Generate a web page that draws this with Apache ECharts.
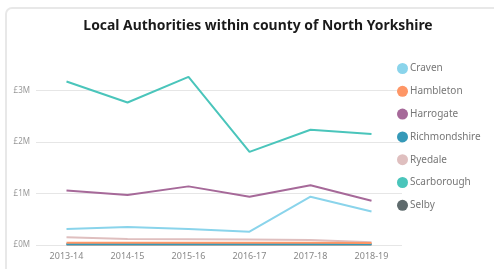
<!DOCTYPE html>
<html>
<head>
<meta charset="utf-8">
<script src="https://cdn.jsdelivr.net/npm/echarts@6/dist/echarts.min.js"></script>
<style>
  html, body { margin: 0; padding: 0; background: #fff; overflow: hidden; }
  #frame { position: absolute; left: 5px; top: 7px; width: 600px; height: 400px;
           border: 2px solid #e8e8e8; border-radius: 7px; }
  #main { position: absolute; left: 0; top: 0; width: 494px; height: 269px; }
</style>
</head>
<body>
<div id="frame"></div>
<div id="main"></div>
<script>
// 年度
var years = ['2013-14', '2014-15', '2015-16', '2016-17', '2017-18', '2018-19'];
var yTicks = [0, 1000000, 2000000, 3000000];

// 各地区数值 (£)
var craven = [310000, 350000, 310000, 260000, 940000, 650000];
var hambleton = [45000, 45000, 45000, 45000, 45000, 40000];
var harrogate = [1060000, 970000, 1140000, 940000, 1160000, 860000];
var richmondshire = [20000, 20000, 20000, 20000, 20000, 20000];
var ryedale = [150000, 115000, 110000, 105000, 95000, 55000];
var scarborough = [3180000, 2770000, 3270000, 1810000, 2240000, 2160000];
var selby = [8000, 8000, 8000, 8000, 8000, 8000];

var names = ['Craven', 'Hambleton', 'Harrogate', 'Richmondshire', 'Ryedale', 'Scarborough', 'Selby'];
var values = [craven, hambleton, harrogate, richmondshire, ryedale, scarborough, selby];
var colors = ['#8AD4EB', '#FE9666', '#A66999', '#3599B8', '#DFBFBF', '#4AC5BB', '#5F6B6D'];

var font = 'Noto Sans';

var myChart = echarts.init(document.getElementById('main'));
var option = {
    animation: false,
    color: colors,
    title: {
        text: 'Local Authorities within county of North Yorkshire',
        left: 253,
        textAlign: 'center',
        top: 14,
        textStyle: { fontFamily: font, fontSize: 13.9, fontWeight: 'bold', color: '#1a1a1a' }
    },
    legend: {
        orient: 'vertical',
        left: 392,
        top: 58,
        icon: 'circle',
        itemWidth: 11,
        itemHeight: 11,
        itemGap: 11.8,
        textStyle: { fontFamily: font, fontSize: 10, color: '#777', lineHeight: 11, padding: [0, 0, 0, -3] },
        data: names
    },
    grid: { left: 36, right: 92, top: 65, bottom: 24, containLabel: false },
    xAxis: {
        type: 'category',
        data: years,
        boundaryGap: true,
        axisLine: { show: false },
        axisTick: { show: false },
        axisLabel: { fontFamily: font, fontSize: 9, color: '#888', margin: 7 }
    },
    yAxis: {
        type: 'value',
        min: 0,
        max: 3500000,
        interval: 1000000,
        axisLabel: {
            fontFamily: font, fontSize: 8, color: '#999', margin: 6, showMaxLabel: false,
            formatter: function (v) { return yTicks.indexOf(v) >= 0 ? '£' + (v / 1000000) + 'M' : ''; }
        },
        splitLine: { showMaxLine: false, lineStyle: { color: '#e6e6e6', width: 1 } }
    },
    series: names.map(function (n, i) {
        return {
            name: n,
            type: 'line',
            data: values[i],
            symbol: 'none',
            lineStyle: { width: 2 },
            z: 10 - i
        };
    })
};
myChart.setOption(option);
</script>
</body>
</html>
